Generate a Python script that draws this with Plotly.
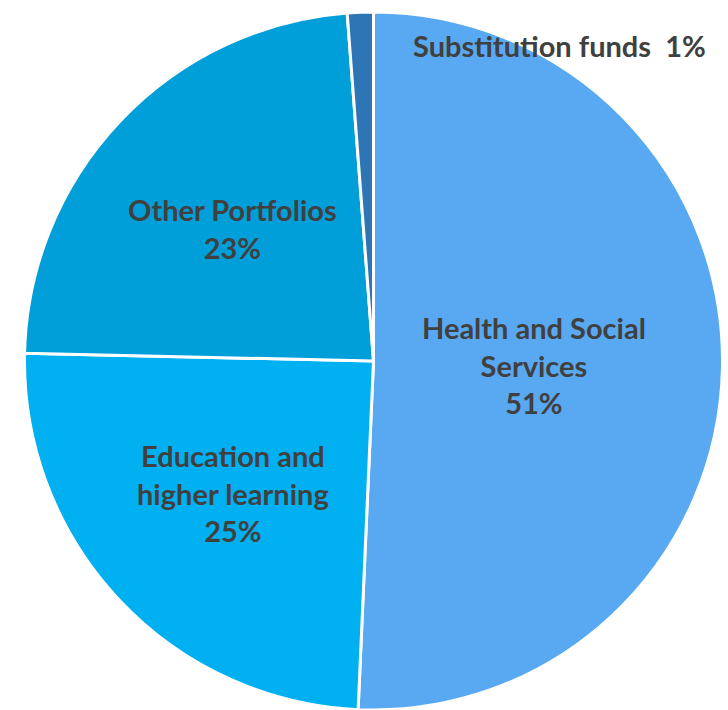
import math
import plotly.graph_objects as go

categories = ["Health and Social<br>Services", "Education and<br>higher learning",
              "Other Portfolios", "Substitution funds"]
values = [50.6, 24.6, 23.4, 1.2]
colors = ["#58A9F1", "#00B0F0", "#009FD9", "#2E75B6"]

W, H = 728, 710
left_px, right_px, top_px, bottom_px = 23, 724, 12, 711
cx = (left_px + right_px) / 2
diam = min(right_px - left_px, bottom_px - top_px)
R = diam / 2
cy = top_px + R

fig = go.Figure(go.Pie(
    labels=categories,
    values=values,
    sort=False,
    direction="clockwise",
    rotation=0,
    textinfo="none",
    hoverinfo="label+percent",
    marker=dict(colors=colors, line=dict(color="white", width=3)),
    domain=dict(x=[left_px / W, right_px / W], y=[max(0, 1 - bottom_px / H), 1 - top_px / H]),
    showlegend=False,
))

total = sum(values)
annotations = []
cum = 0
font = dict(family="Lato", size=29, color="#404040")
for lab, v in zip(categories, values):
    frac = v / total
    theta = frac * 2 * math.pi
    mid = (cum + frac / 2) * 2 * math.pi
    cum += frac
    pct = f"{round(frac * 100)}%"
    if frac < 0.05:
        annotations.append(dict(
            x=411 / W, y=1 - 45 / H, xref="paper", yref="paper",
            xanchor="left", yanchor="middle", showarrow=False,
            text=f"<b>{lab}\u00a0\u00a0{pct}</b>", font=font))
        continue
    centroid = 4 * math.sin(theta / 2) / (3 * theta)
    rr = 0.5 * (centroid + 0.5) * R
    px = cx + rr * math.sin(mid)
    py = cy - rr * math.cos(mid)
    annotations.append(dict(
        x=px / W, y=1 - py / H, xref="paper", yref="paper",
        xanchor="center", yanchor="middle", showarrow=False,
        text=f"<b>{lab}<br>{pct}</b>", font=font))

fig.update_layout(
    width=W, height=H,
    margin=dict(l=0, r=0, t=0, b=0),
    paper_bgcolor="white",
    plot_bgcolor="white",
    annotations=annotations,
)

fig.write_html("out.html")
